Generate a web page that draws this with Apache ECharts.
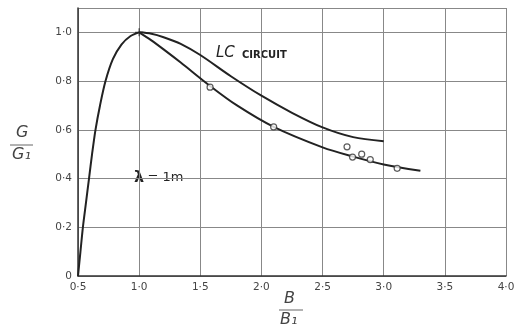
<!DOCTYPE html>
<html><head><meta charset="utf-8">
<script src="https://cdn.jsdelivr.net/npm/echarts@6/dist/echarts.min.js"></script>
<style>html,body{margin:0;padding:0;background:#fff}#c{width:524px;height:336px}</style>
</head><body><div id="c"></div>
<script>
const xTicks = [0.5, 1.0, 1.5, 2.0, 2.5, 3.0, 3.5, 4.0];
const yTicks = [0, 0.2, 0.4, 0.6, 0.8, 1.0];
const risingCurve = [[0.5,0],[0.52,0.1],[0.54,0.2],[0.565,0.3],[0.59,0.4],[0.615,0.5],[0.643,0.6],[0.68,0.7],[0.725,0.8],[0.785,0.89],[0.855,0.95],[0.93,0.985],[1.0,1.0]];
const lcCurve = [[1.0,1.0],[1.1,0.994],[1.2,0.98],[1.34,0.953],[1.5,0.907],[1.75,0.82],[2.0,0.74],[2.25,0.67],[2.5,0.61],[2.75,0.57],[3.0,0.553]];
const measuredCurve = [[1.0,1.0],[1.1,0.967],[1.2,0.93],[1.34,0.876],[1.58,0.78],[1.8,0.70],[2.1,0.612],[2.5,0.528],[2.75,0.49],[3.0,0.458],[3.3,0.432]];
const measuredPoints = [[1.58,0.775],[2.1,0.612],[2.70,0.53],[2.745,0.488],[2.82,0.50],[2.89,0.478],[3.11,0.442]];
const peakPoint = [[1.0,1.0]];
const fmt = v => (v === 0 ? '0' : v.toFixed(1).replace('.', '·'));
const font = 'DejaVu Sans';
const chart = echarts.init(document.getElementById('c'));
const lineStyle = {color:'#222', width:2};
chart.setOption({
  animation:false,
  grid:{left:78, right:18, top:8, bottom:60},
  xAxis:{type:'value', min:0.5, max:4.0, interval:0.5,
    axisLine:{lineStyle:{color:'#333', width:1.5}}, axisTick:{show:false},
    axisLabel:{formatter:v=>fmt(v), color:'#444', fontFamily:font, fontSize:10.5, margin:6},
    splitLine:{show:true, lineStyle:{color:'#888', width:1}}},
  yAxis:{type:'value', min:0, max:1.1, interval:0.2,
    axisLine:{show:true, lineStyle:{color:'#333', width:1.5}}, axisTick:{show:false},
    axisLabel:{formatter:v=>(v>1.05?'':fmt(v)), color:'#444', fontFamily:font, fontSize:10.5, margin:6},
    splitLine:{show:true, lineStyle:{color:'#888', width:1}}},
  series:[
    {type:'line', data:risingCurve, smooth:0.3, symbol:'none', lineStyle},
    {type:'line', data:lcCurve, smooth:0.3, symbol:'none', lineStyle},
    {type:'line', data:measuredCurve, smooth:0.3, symbol:'none', lineStyle},
    {type:'scatter', data:measuredPoints, symbol:'circle', symbolSize:6,
      itemStyle:{color:'#fff', borderColor:'#333', borderWidth:1.2}, z:5},
    {type:'scatter', data:peakPoint, symbol:'path://M0,5L10,5M5,0L5,10', symbolSize:8,
      itemStyle:{color:'none', borderColor:'#222', borderWidth:1.2}, z:5}
  ],
  graphic:[
    {type:'text', left:216, top:46, style:{text:'LC', font:'italic 15px "DejaVu Sans"', fill:'#222'}},
    {type:'text', left:242, top:50, style:{text:'CIRCUIT', font:'bold 10px "DejaVu Sans"', fill:'#222'}},
    {type:'text', left:134, top:170, style:{text:'{a|λ} {b|= 1m}', fill:'#222',
      rich:{a:{fontFamily:font, fontSize:16, fontWeight:'bold', fill:'#222'}, b:{fontFamily:font, fontSize:13, fill:'#222'}}}},
    {type:'text', left:16, top:125, style:{text:'G', font:'italic 16px "DejaVu Sans"', fill:'#444'}},
    {type:'line', shape:{x1:10, y1:145, x2:33, y2:145}, style:{stroke:'#666', lineWidth:1}},
    {type:'text', left:12, top:147, style:{text:'G₁', font:'italic 16px "DejaVu Sans"', fill:'#444'}},
    {type:'text', left:284, top:291, style:{text:'B', font:'italic 16px "DejaVu Sans"', fill:'#444'}},
    {type:'line', shape:{x1:279, y1:310, x2:303, y2:310}, style:{stroke:'#666', lineWidth:1}},
    {type:'text', left:280, top:312, style:{text:'B₁', font:'italic 16px "DejaVu Sans"', fill:'#444'}}
  ]
});
</script></body></html>
